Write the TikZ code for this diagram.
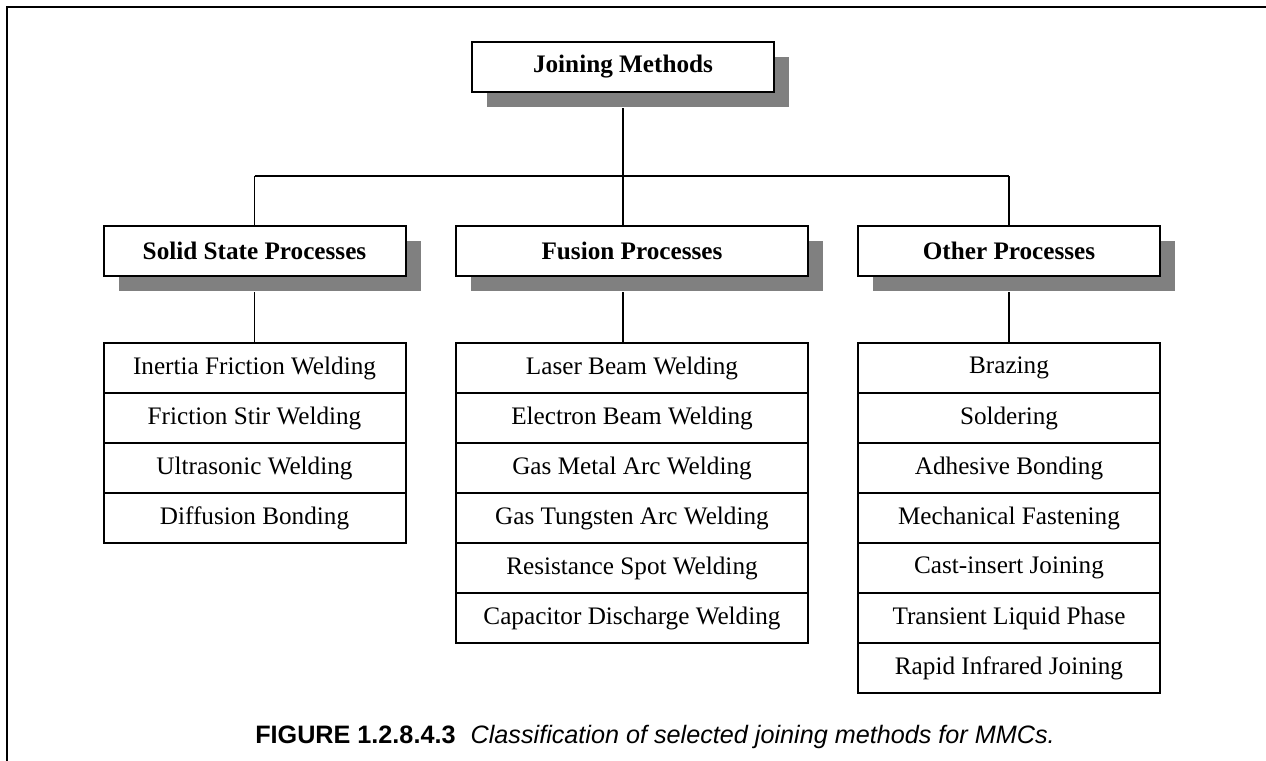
\documentclass[tikz,border=0pt]{standalone}
\usepackage{fontspec}
\setmainfont{Liberation Serif}
\newfontfamily\capfont{Liberation Sans}
\usetikzlibrary{positioning}
\usetikzlibrary{shadows}

\definecolor{shadegray}{HTML}{808080}
\tikzset{
  head/.style={draw, line width=1pt, fill=white, minimum height=25pt, inner sep=0pt,
    font=\fontsize{12.6}{15}\selectfont\bfseries,
    general shadow={fill=shadegray, shadow xshift=7.5pt, shadow yshift=-7.5pt}},
  item/.style={draw, line width=1pt, minimum height=25pt, inner sep=0pt,
    font=\fontsize{12.6}{15}\selectfont},
  link/.style={line width=0.8pt}
}

\begin{document}
\begin{tikzpicture}[x=0.5pt,y=-0.5pt]
    \useasboundingbox (0,0) rectangle (1266,761);
    \draw [line width=1.2pt] (7,761) -- (7,7) -- (1266,7);

    % headings
    \path (623,67) node [head, minimum width=151pt] (jm) {Joining Methods};
    \path (254.5,251) node [head, minimum width=151pt] (ss) {Solid State Processes};
    \path (632,251) node [head, minimum width=176pt] (fp) {Fusion Processes};
    \path (1009,251) node [head, minimum width=151pt] (op) {Other Processes};
    \coordinate (bus) at (623,176);

    % lists
    \foreach \t [count=\i] in {Inertia Friction Welding, Friction Stir Welding,
        Ultrasonic Welding, Diffusion Bonding}
      \path (254.5,318+50*\i) node [item, minimum width=151pt] (ss\i) {\t};
    \foreach \t [count=\i] in {Laser Beam Welding, Electron Beam Welding,
        Gas Metal Arc Welding, Gas Tungsten Arc Welding,
        Resistance Spot Welding, Capacitor Discharge Welding}
      \path (632,318+50*\i) node [item, minimum width=176pt] (fu\i) {\t};
    \foreach \t [count=\i] in {Brazing, Soldering, Adhesive Bonding,
        Mechanical Fastening, Cast-insert Joining, Transient Liquid Phase,
        Rapid Infrared Joining}
      \path (1009,318+50*\i) node [item, minimum width=151pt] (ot\i) {\t};

    % tree lines
    \draw [link] ([yshift=-7.5pt]jm.south) -- (bus);
    \draw [link] (ss.north |- bus) -- (op.north |- bus);
    \draw [link] (bus) -- (fp.north -| bus);
    \draw [link] (ss.north |- bus) -- (ss.north);
    \draw [link] (op.north |- bus) -- (op.north);
    \draw [link] ([yshift=-7.5pt]ss.south) -- (ss1);
    \draw [link] ([yshift=-7.5pt]fp.south -| bus) -- (fu1.north -| bus);
    \draw [link] ([yshift=-7.5pt]op.south) -- (ot1);

    \path (655,737) node [font=\capfont\fontsize{12.6}{15}\selectfont] (cap)
      {\textbf{FIGURE 1.2.8.4.3}\hspace{0.6em}\textit{Classification of selected joining methods for MMCs.}};
\end{tikzpicture}
\end{document}
